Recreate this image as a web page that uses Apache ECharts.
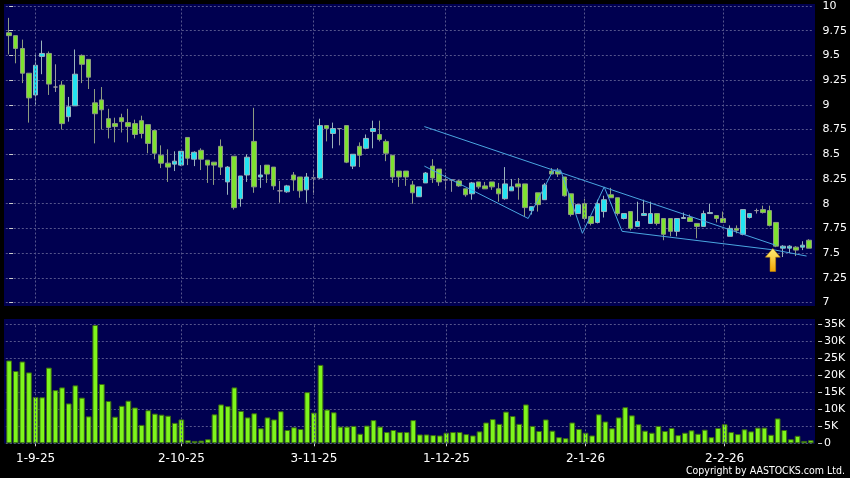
<!DOCTYPE html>
<html>
<head>
<meta charset="utf-8">
<script src="https://cdn.jsdelivr.net/npm/echarts@6.0.0/dist/echarts.min.js"></script>
<style>html,body{margin:0;padding:0;background:#000;}#c{width:850px;height:478px;}</style>
</head>
<body>
<div id="c"></div>
<script>
const dates = ['26-8-25','27-8-25','28-8-25','29-8-25',
'1-9-25','2-9-25','3-9-25','4-9-25','5-9-25','8-9-25','9-9-25','10-9-25','11-9-25','12-9-25','15-9-25','16-9-25','17-9-25','18-9-25','19-9-25','22-9-25','23-9-25','24-9-25','25-9-25','26-9-25','29-9-25','30-9-25',
'2-10-25','3-10-25','6-10-25','8-10-25','9-10-25','10-10-25','13-10-25','14-10-25','15-10-25','16-10-25','17-10-25','20-10-25','21-10-25','22-10-25','23-10-25','24-10-25','27-10-25','28-10-25','30-10-25','31-10-25',
'3-11-25','4-11-25','5-11-25','6-11-25','7-11-25','10-11-25','11-11-25','12-11-25','13-11-25','14-11-25','17-11-25','18-11-25','19-11-25','20-11-25','21-11-25','24-11-25','25-11-25','26-11-25','27-11-25','28-11-25',
'1-12-25','2-12-25','3-12-25','4-12-25','5-12-25','8-12-25','9-12-25','10-12-25','11-12-25','12-12-25','15-12-25','16-12-25','17-12-25','18-12-25','19-12-25','22-12-25','23-12-25','24-12-25','29-12-25','30-12-25','31-12-25',
'2-1-26','5-1-26','6-1-26','7-1-26','8-1-26','9-1-26','12-1-26','13-1-26','14-1-26','15-1-26','16-1-26','19-1-26','20-1-26','21-1-26','22-1-26','23-1-26','26-1-26','27-1-26','28-1-26','29-1-26','30-1-26',
'2-2-26','3-2-26','4-2-26','5-2-26','6-2-26','9-2-26','10-2-26','11-2-26','12-2-26','13-2-26','16-2-26','20-2-26','23-2-26','24-2-26'];

const labelDates = ['1-9-25','2-10-25','3-11-25','1-12-25','2-1-26','2-2-26'];

const opens = [9.73,9.70,9.57,9.32,9.10,9.49,9.52,9.18,9.20,8.88,
8.99,9.50,9.46,9.02,9.05,8.86,8.81,8.87,8.82,8.81,
8.84,8.80,8.74,8.49,8.41,8.40,8.39,8.67,8.45,8.54,
8.44,8.42,8.58,8.22,8.48,8.05,8.29,8.63,8.27,8.39,
8.37,8.13,8.12,8.29,8.27,8.14,8.26,8.26,8.79,8.71,
8.76,8.79,8.38,8.58,8.56,8.73,8.70,8.63,8.49,8.33,
8.33,8.19,8.07,8.21,8.38,8.35,8.24,8.24,8.23,8.15,
8.10,8.22,8.18,8.22,8.15,8.05,8.13,8.20,8.20,7.93,
8.11,8.04,8.33,8.33,8.27,8.10,7.90,8.00,7.87,7.81,
7.92,8.09,8.06,7.85,7.92,7.77,7.88,7.80,7.90,7.85,
7.85,7.72,7.85,7.86,7.80,7.77,7.90,7.88,7.85,7.67,
7.75,7.69,7.86,7.93,7.94,7.93,7.81,7.55,7.55,7.56,7.56,7.63];

const closes = [9.70,9.57,9.32,9.07,9.40,9.52,9.21,9.18,8.81,8.98,
9.31,9.41,9.28,8.91,8.95,8.77,8.78,8.83,8.78,8.70,
8.71,8.61,8.51,8.41,8.37,8.43,8.53,8.46,8.52,8.45,
8.39,8.39,8.37,8.37,7.96,8.28,8.47,8.17,8.29,8.30,
8.18,8.13,8.18,8.24,8.13,8.27,8.26,8.79,8.76,8.76,
8.76,8.42,8.50,8.49,8.66,8.76,8.65,8.51,8.27,8.27,
8.27,8.11,8.17,8.31,8.26,8.22,8.24,8.24,8.18,8.09,
8.21,8.17,8.15,8.17,8.10,8.20,8.17,8.17,7.96,7.97,
7.99,8.19,8.30,8.30,8.08,7.89,7.99,7.85,7.80,8.00,
8.04,8.06,7.90,7.90,7.75,7.82,7.90,7.90,7.80,7.69,
7.72,7.85,7.86,7.82,7.77,7.90,7.91,7.85,7.81,7.75,
7.73,7.94,7.90,7.93,7.91,7.78,7.57,7.57,7.57,7.53,7.58,7.55];

const lows = [9.51,9.42,9.22,8.82,9.00,9.31,9.10,9.13,8.75,8.83,
8.99,9.22,9.16,8.61,8.75,8.66,8.62,8.72,8.62,8.66,
8.66,8.51,8.45,8.36,8.22,8.33,8.38,8.39,8.38,8.34,
8.21,8.19,8.29,8.09,7.94,7.97,8.22,8.11,8.16,8.21,
8.14,8.01,8.11,8.13,8.06,8.01,8.09,8.25,8.63,8.56,
8.59,8.41,8.35,8.37,8.55,8.56,8.63,8.43,8.21,8.17,
8.18,8.00,8.07,8.21,8.21,8.18,8.14,8.12,8.17,8.07,
8.04,8.15,8.15,8.14,8.02,8.04,8.13,8.04,7.87,7.89,
7.92,8.04,8.30,8.27,8.07,7.87,7.90,7.83,7.78,7.80,
7.86,8.06,7.88,7.84,7.73,7.77,7.88,7.80,7.78,7.63,
7.67,7.67,7.85,7.82,7.65,7.77,7.90,7.81,7.81,7.67,
7.70,7.68,7.85,7.90,7.90,7.77,7.56,7.46,7.50,7.47,7.53,7.55];

const highs = [9.88,9.70,9.66,9.32,9.51,9.65,9.54,9.41,9.24,9.08,
9.56,9.51,9.46,9.16,9.18,8.96,8.87,8.91,8.96,8.85,
8.89,8.80,8.74,8.59,8.55,8.53,8.53,8.67,8.53,8.56,
8.44,8.42,8.65,8.38,8.48,8.28,8.50,8.97,8.39,8.39,
8.37,8.23,8.19,8.32,8.27,8.31,8.34,8.86,8.79,8.82,
8.76,8.79,8.50,8.62,8.70,8.84,8.84,8.65,8.49,8.33,
8.33,8.23,8.17,8.32,8.45,8.35,8.29,8.24,8.24,8.15,
8.22,8.22,8.22,8.22,8.21,8.37,8.25,8.26,8.20,7.97,
8.11,8.21,8.36,8.36,8.27,8.10,8.00,8.05,7.87,8.04,
8.08,8.16,8.06,7.90,7.92,8.02,8.04,8.02,7.90,7.85,
7.85,7.85,7.91,7.89,7.80,7.93,8.00,7.88,7.92,7.78,
7.78,7.94,7.90,7.95,7.98,7.98,7.81,7.58,7.58,7.57,7.62,7.64];

const volumesK = [24.3,21.2,24.0,20.8,13.6,13.5,22.2,15.6,16.4,11.7,
17.0,13.4,7.9,34.7,17.4,12.4,7.8,11.0,12.5,10.5,
5.4,9.7,8.7,8.4,8.1,6.0,7.0,0.9,0.7,0.8,
1.2,8.5,11.4,10.9,16.4,9.5,7.6,8.8,4.4,7.6,
7.0,9.4,3.9,4.7,4.2,15.0,9.0,23.0,9.9,9.1,
4.9,4.9,5.1,2.8,5.2,6.8,4.9,3.3,3.9,3.3,
3.3,6.8,2.6,2.6,2.4,2.3,3.1,3.3,3.3,2.7,
2.3,3.5,6.1,7.1,5.7,9.3,8.0,5.7,11.4,5.1,
3.6,7.0,3.7,1.8,1.5,6.1,4.2,3.1,2.3,8.5,
6.4,4.4,7.6,10.6,8.2,5.6,3.7,3.1,5.1,3.6,
4.5,2.4,3.1,3.8,2.8,4.0,1.8,4.5,5.6,3.3,
2.7,4.1,3.5,4.6,4.6,2.5,7.3,3.9,1.2,2.2,0.7,0.9];

// trend lines: [candle index, price]
const upperTrend = [[62.8, 8.78], [115.9, 7.58]];
const lowerTrend = [[62.8, 8.38], [78.5, 7.85], [82.3, 8.34], [83.4, 8.34], [86.7, 7.70], [90.0, 8.17], [92.7, 7.72], [115.9, 7.53], [120.6, 7.47]];
const arrowPoint = [[115.5, 7.43]];

const candleData = opens.map((o, i) => [o, closes[i], lows[i], highs[i]]);
const volData = volumesK.map(v => v * 1000);

const GL = 5.8, GW = 808.3;
const gridLineStyle = { color: '#55558c', type: [2, 2], width: 1 };
const vLines = labelDates.map(d => ({ xAxis: d }));
const isLabel = (idx, val) => labelDates.indexOf(val) >= 0;

const chart = echarts.init(document.getElementById('c'), null, { renderer: 'canvas' });
chart.setOption({
  animation: false,
  backgroundColor: '#000000',
  graphic: [
    { type: 'rect', z: -10, shape: { x: 4, y: 4, width: 811, height: 302 }, style: { fill: '#000050' } },
    { type: 'rect', z: -10, shape: { x: 4, y: 319, width: 811, height: 124.5 }, style: { fill: '#000050' } },
    { type: 'text', z: 10, style: { text: 'Copyright by AASTOCKS.com Ltd.', x: 845, y: 471, textAlign: 'right', textVerticalAlign: 'middle', fill: '#ffffff', font: '10.5px "DejaVu Sans Condensed", "DejaVu Sans", sans-serif' } }
  ],
  grid: [
    { left: GL, width: GW, top: 6, height: 296.5, containLabel: false },
    { left: GL, width: GW, top: 324, height: 119.3, containLabel: false }
  ],
  xAxis: [
    { type: 'category', gridIndex: 0, data: dates, boundaryGap: true,
      axisLine: { show: false }, axisTick: { show: false }, axisLabel: { show: false }, splitLine: { show: false } },
    { type: 'category', gridIndex: 1, data: dates, boundaryGap: true, position: 'bottom', offset: 3,
      axisLine: { show: false },
      axisTick: { show: true, alignWithLabel: true, interval: isLabel, length: 3, lineStyle: { color: '#cccccc' } },
      axisLabel: { show: true, interval: isLabel, color: '#ffffff', fontSize: 12, fontFamily: 'DejaVu Sans', margin: 7 },
      splitLine: { show: false } },
    { type: 'value', gridIndex: 0, min: -0.5, max: 121.5, show: false, position: 'top' }
  ],
  yAxis: [
    { type: 'value', gridIndex: 0, position: 'right', min: 7, max: 10, interval: 0.25, offset: 4,
      axisLine: { show: false },
      axisTick: { show: true, length: 4, lineStyle: { color: '#cccccc' } },
      axisLabel: { color: '#ffffff', fontSize: 11, fontFamily: 'DejaVu Sans', margin: 6 },
      splitLine: { show: true, lineStyle: gridLineStyle } },
    { type: 'value', gridIndex: 1, position: 'right', min: 0, max: 35000, interval: 5000, offset: 4,
      axisLine: { show: false },
      axisTick: { show: true, length: 4, lineStyle: { color: '#cccccc' } },
      axisLabel: { color: '#ffffff', fontSize: 11, fontFamily: 'DejaVu Sans', margin: 6,
        formatter: v => v === 0 ? '0' : (v / 1000) + 'K' },
      splitLine: { show: true, lineStyle: gridLineStyle } }
  ],
  series: [
    { type: 'candlestick', xAxisIndex: 0, yAxisIndex: 0, data: candleData, barWidth: '76%',
      itemStyle: { color: '#22e4f2', color0: '#7ee230', borderColor: '#9ab4bc', borderColor0: '#8e9c80', borderColorDoji: '#9a9aa0', borderWidth: 1 },
      markLine: { silent: true, symbol: 'none', label: { show: false }, lineStyle: gridLineStyle, data: vLines } },
    { type: 'bar', xAxisIndex: 1, yAxisIndex: 1, data: volData, barCategoryGap: '14%',
      itemStyle: { color: '#7ef51c', borderColor: '#3b6a12', borderWidth: 1 },
      markLine: { silent: true, symbol: 'none', label: { show: false }, lineStyle: gridLineStyle, data: vLines } },
    { type: 'line', xAxisIndex: 2, yAxisIndex: 0, data: upperTrend, symbol: 'none', lineStyle: { color: '#4aa6e0', width: 1 }, z: 5 },
    { type: 'line', xAxisIndex: 2, yAxisIndex: 0, data: lowerTrend, symbol: 'none', lineStyle: { color: '#4aa6e0', width: 1 }, z: 5 },
    { type: 'scatter', xAxisIndex: 2, yAxisIndex: 0, data: arrowPoint, z: 6,
      symbol: 'path://M8,0 L16,9 L11,9 L11,24 L5,24 L5,9 L0,9 Z', symbolSize: [15, 23],
      itemStyle: { color: new echarts.graphic.LinearGradient(0, 0, 0, 1, [{ offset: 0, color: '#fff07a' }, { offset: 1, color: '#f2a400' }]), borderColor: '#c98a00', borderWidth: 0.5, opacity: 1 } }
  ]
});
</script>
</body>
</html>
